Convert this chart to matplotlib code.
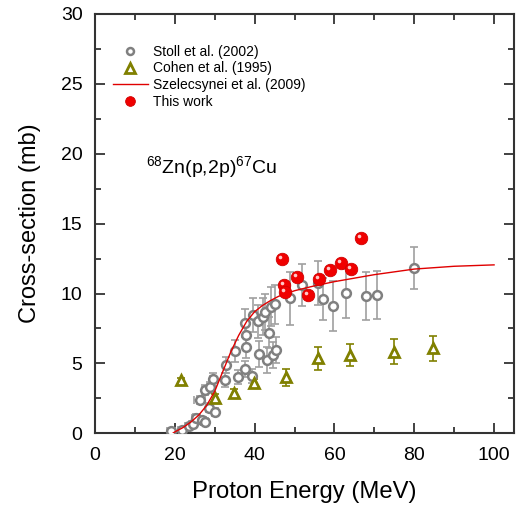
import numpy as np
import matplotlib
matplotlib.use('Agg')
import matplotlib.pyplot as plt
import matplotlib.transforms as mtransforms
from matplotlib.ticker import MultipleLocator

# Stoll et al. (2002)
stollE = [19.0, 21.7, 23.5, 24.6, 25.4, 26.7, 27.5, 26.25, 27.5, 28.75, 29.6, 28.5, 30.0,
          32.5, 32.75, 35.2, 35.8, 37.5, 37.9, 37.9, 37.7, 39.3, 39.6, 40.8, 41.1, 42.1,
          42.5, 43.6, 43.1, 44.2, 45.0, 44.6, 45.4, 48.75, 51.9, 55.9, 57.1, 59.6, 63.0,
          67.8, 70.75, 80.0]
stollXS = [0.14, 0.26, 0.55, 0.69, 1.12, 0.93, 0.81, 2.37, 3.1, 3.28, 3.85, 1.84, 1.53,
           3.8, 4.88, 5.9, 4.0, 7.87, 7.03, 6.2, 4.6, 4.1, 8.47, 8.0, 5.67, 8.35,
           8.7, 7.2, 5.24, 9.07, 9.24, 5.6, 5.96, 9.67, 10.6, 10.75, 9.62, 9.12, 10.03,
           9.81, 9.9, 11.82]
stollErr = [0.1, 0.1, 0.2, 0.2, 0.25, 0.25, 0.25, 0.3, 0.35, 0.4, 0.45, 0.3, 0.3,
            0.5, 0.6, 0.8, 0.5, 1.0, 0.9, 0.8, 0.6, 0.5, 1.2, 1.2, 0.9, 1.3,
            1.3, 1.1, 0.9, 1.4, 1.4, 0.9, 0.9, 1.9, 1.5, 1.6, 1.5, 1.8, 1.75,
            1.7, 1.7, 1.5]
stollEErr = [1.0, 1.0, 1.0, 1.0, 1.0, 1.0, 1.0, 1.4, 0.8, 0.8, 0.8, 0.8, 0.8,
             0, 0, 0, 0, 0, 0, 0, 0, 0, 0, 0, 0, 0,
             0, 0, 0, 0, 0, 0, 0, 0, 0, 0, 0, 0, 0,
             0, 0, 0]

# Cohen et al. (1995)
cohenE = [21.5, 30.0, 34.8, 39.8, 47.9, 56.0, 63.9, 75.0, 84.8]
cohenXS = [3.8, 2.54, 2.85, 3.57, 4.02, 5.36, 5.6, 5.84, 6.08]
cohenErr = [0.15, 0.3, 0.3, 0.35, 0.6, 0.8, 0.8, 0.9, 0.9]

# Szelecsynei et al. (2009) recommended curve
szelE = [19.5, 20, 22, 24, 26, 28, 30, 32, 34, 36, 38, 40, 42, 44, 46, 48, 50,
         55, 60, 65, 70, 80, 90, 100]
szelXS = [0.0, 0.1, 0.4, 0.8, 1.3, 2.0, 3.0, 4.4, 5.8, 7.0, 8.0, 8.7, 9.15, 9.5, 9.8,
          10.0, 10.2, 10.55, 10.85, 11.1, 11.35, 11.75, 11.95, 12.05]

# This work
workE = [46.9, 47.25, 47.6, 50.6, 53.5, 56.25, 59.0, 61.7, 64.1, 66.7]
workXS = [12.47, 10.62, 10.12, 11.2, 9.87, 11.03, 11.7, 12.18, 11.75, 13.95]


def main():
    plt.rcParams['font.family'] = ['Liberation Sans', 'DejaVu Sans']
    plt.rcParams['mathtext.fontset'] = 'custom'
    plt.rcParams['mathtext.rm'] = 'Liberation Sans'
    plt.rcParams['mathtext.it'] = 'Liberation Sans:italic'

    fig = plt.figure(figsize=(5.19, 5.12), dpi=100)
    ax = fig.add_axes([0.183, 0.1537, 0.8074, 0.8190])

    gray = '#808080'
    olive = '#808000'

    ax.errorbar(stollE, stollXS, yerr=stollErr, xerr=stollEErr, fmt='none',
                ecolor='#a0a0a0', elinewidth=1.2, capsize=3, capthick=1.2, zorder=2)
    ax.plot(stollE, stollXS, 'o', ms=6.3, mfc='white', mec=gray, mew=1.8, zorder=3)

    ax.errorbar(cohenE, cohenXS, yerr=cohenErr, fmt='none', ecolor=olive,
                elinewidth=1.2, capsize=3, capthick=1.2, zorder=2)
    ax.plot(cohenE, cohenXS, '^', ms=7.5, mfc='white', mec=olive, mew=2, zorder=3)

    ax.plot(szelE, szelXS, '-', color='#e00000', lw=1.0, zorder=4)

    ax.plot(workE, workXS, 'o', ms=9, mfc='#f00000', mec='#d00000', mew=0.6, zorder=5)
    shine = mtransforms.offset_copy(ax.transData, fig=fig, x=-2, y=2, units='dots')
    ax.plot(workE, workXS, 'o', ms=2.6, mfc='#ffc8c8', mec='none', transform=shine, zorder=6)

    # legend
    h1, = ax.plot([], [], 'o', ms=5, mfc='white', mec=gray, mew=1.8)
    h2, = ax.plot([], [], '^', ms=6.5, mfc='white', mec=olive, mew=2)
    h3, = ax.plot([], [], '-', color='#e00000', lw=1.0)
    h4, = ax.plot([], [], 'o', ms=7, mfc='#f00000', mec='#d00000', mew=0.6)
    ax.legend([h1, h2, h3, h4],
              ['Stoll et al. (2002)', 'Cohen et al. (1995)',
               'Szelecsynei et al. (2009)', 'This work'],
              loc='upper left', bbox_to_anchor=(0.03, 0.94), frameon=False,
              fontsize=10, handlelength=2.5, handletextpad=0.4, labelspacing=0.2,
              borderaxespad=0)

    ax.text(12.8, 19.05, r'$^{68}$Zn(p,2p)$^{67}$Cu', fontsize=14, va='center')

    ax.set_xlim(0, 105)
    ax.set_ylim(0, 30)
    ax.set_xticks([0, 20, 40, 60, 80, 100])
    ax.xaxis.set_minor_locator(MultipleLocator(10))
    ax.yaxis.set_major_locator(MultipleLocator(5))
    ax.yaxis.set_minor_locator(MultipleLocator(2.5))
    ax.tick_params(which='both', direction='in', top=True, right=True,
                   color='#333333', width=1.3)
    ax.tick_params(which='major', length=7, labelsize=14)
    ax.tick_params(axis='x', which='major', pad=10)
    ax.tick_params(axis='y', which='major', pad=9)
    ax.tick_params(which='minor', length=4)
    for s in ax.spines.values():
        s.set_color('#333333')
        s.set_linewidth(1.5)

    ax.set_xlabel('Proton Energy (MeV)', fontsize=17.2, labelpad=12)
    ax.set_ylabel('Cross-section (mb)', fontsize=17, labelpad=14)

    fig.savefig('out.png', dpi=100)


if __name__ == '__main__':
    main()
